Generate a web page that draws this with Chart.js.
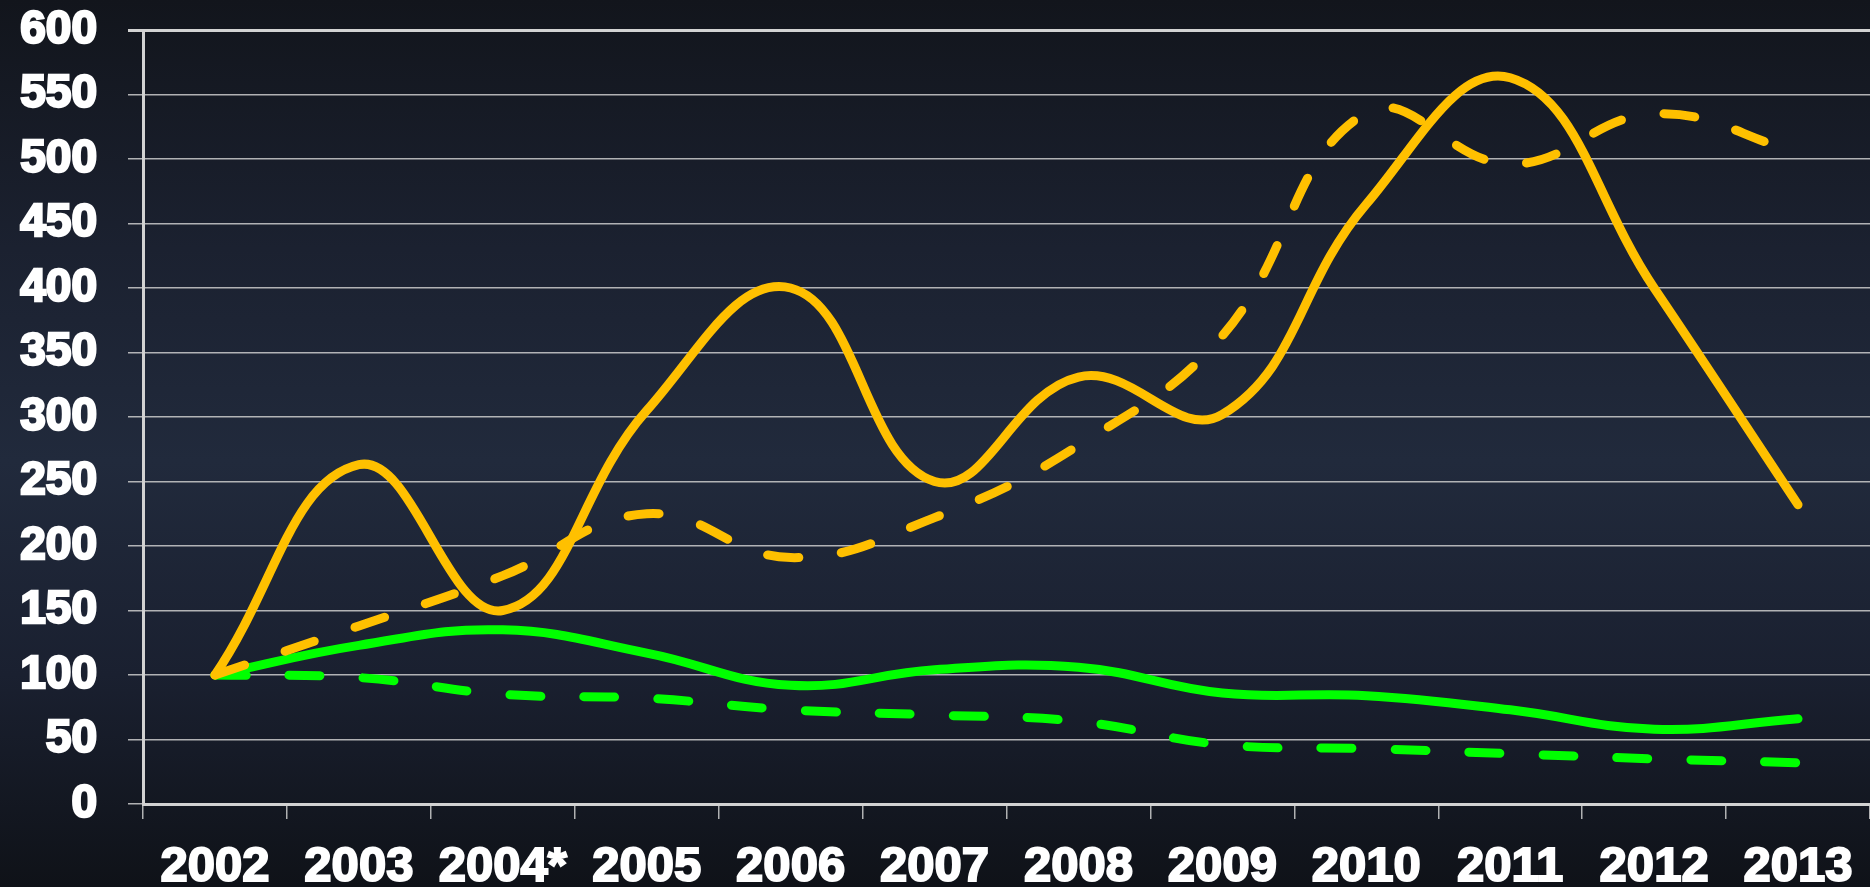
<!DOCTYPE html>
<html>
<head>
<meta charset="utf-8">
<script src="https://cdn.jsdelivr.net/npm/chart.js@4.4.1/dist/chart.umd.min.js"></script>
<style>
  html, body { margin:0; padding:0; overflow:hidden; }
  body {
    width:1870px; height:887px;
    background: linear-gradient(to bottom, #12151c 0%, #1b2130 28%, #212a3c 52%, #1a2030 76%, #0f1218 100%);
  }
  #wrap { position:relative; width:1870px; height:887px; }
</style>
</head>
<body>
<div id="wrap"><canvas id="chart"></canvas></div>
<script>
// data ----------------------------------------------------------
const years = ["2002","2003","2004*","2005","2006","2007","2008","2009","2010","2011","2012","2013"];

const goldSolid  = [100, 263, 150, 305, 400, 250, 331, 302, 465, 563, 400, 232];
const goldDashed = [100, 138, 177, 225, 191, 222, 278, 363, 536, 496, 535, 505];
const greenSolid = [100, 123, 135, 117,  92, 104, 106,  86,  84,  73,  58,  66];
const greenDashed= [100,  98,  85,  82,  73,  69,  64,  46,  43,  39,  35,  32];

const yMin = 0, yMax = 600, yStep = 50;

// styling -------------------------------------------------------
const GOLD  = "#ffc000";
const GREEN = "#00ff00";
const GRID  = "rgba(205,205,205,0.85)";
const AXIS  = "#d2d2d2";
const dash  = [31, 43];
const labelFont = "'Liberation Sans', Arial, sans-serif";

function line(data, color, dashed) {
  return {
    data: data,
    borderColor: color,
    borderWidth: 9,
    borderDash: dashed ? dash : [],
    borderCapStyle: "round",
    borderJoinStyle: "round",
    pointRadius: 0,
    tension: 0.42,
    fill: false
  };
}

// ----------------------------------------------------------------
new Chart(document.getElementById("chart"), {
  type: "line",
  data: {
    labels: years,
    datasets: [
      line(goldSolid,  GOLD,  false),
      line(goldDashed, GOLD,  true),
      line(greenSolid, GREEN, false),
      line(greenDashed,GREEN, true)
    ]
  },
  options: {
    responsive: true,
    maintainAspectRatio: false,
    devicePixelRatio: 1,
    animation: false,
    layout: { padding: { top: 30, right: 0, bottom: 0, left: 0 } },
    plugins: { legend: { display: false }, tooltip: { enabled: false } },
    scales: {
      x: {
        offset: true,
        grid: { offset: true, drawOnChartArea: false, tickLength: 15, color: GRID, lineWidth: 1.5 },
        border: { color: AXIS, width: 3 },
        ticks: {
          color: "#ffffff",
          textStrokeColor: "#ffffff",
          textStrokeWidth: 2,
          padding: 19,
          maxRotation: 0,
          autoSkip: false,
          font: { family: labelFont, size: 49, weight: "bold" }
        },
        afterFit: s => { s.height = 83; s.paddingLeft = 0; s.paddingRight = 0; }
      },
      y: {
        min: yMin, max: yMax,
        grid: {
          tickLength: 15,
          color: c => c.tick && c.tick.value === yMax ? AXIS : GRID,
          lineWidth: c => c.tick && c.tick.value === yMax ? 3 : 1.5
        },
        border: { color: AXIS, width: 3 },
        ticks: {
          stepSize: yStep,
          color: "#ffffff",
          textStrokeColor: "#ffffff",
          textStrokeWidth: 2.5,
          padding: 31,
          font: { family: labelFont, size: 46, weight: "bold" }
        },
        afterFit: s => { s.width = 143; s.paddingTop = 0; s.paddingBottom = 0; }
      }
    }
  }
});
</script>
</body>
</html>
